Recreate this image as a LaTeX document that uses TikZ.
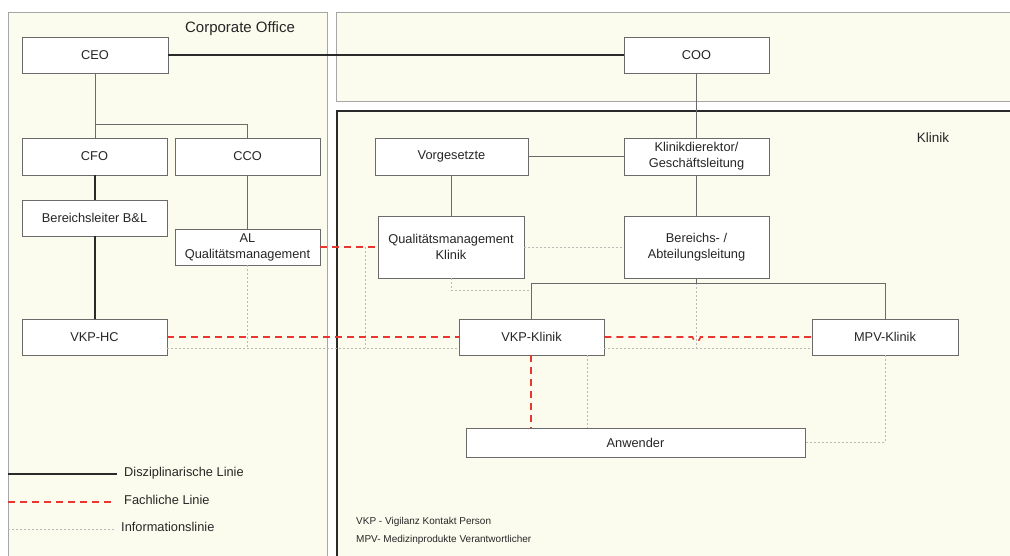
\documentclass[tikz,border=0pt]{standalone}
\usepackage{fontspec}
\setmainfont{Liberation Sans}
\definecolor{cream}{HTML}{FCFCEE}
\definecolor{boxline}{HTML}{6A6A6A}
\definecolor{darkline}{HTML}{2A2A2A}
\definecolor{fachred}{HTML}{E8342E}
\definecolor{infogray}{HTML}{B8B8B8}
\tikzset{
  orgbox/.style={draw=boxline, fill=white, line width=0.8pt, inner sep=1pt, align=center,
    font=\fontsize{12.8}{16}\selectfont, text=black!85},
  panel/.style={draw=gray!70, line width=0.8pt, fill=cream},
  treeline/.style={color=boxline, line width=0.7pt},
  discline/.style={color=darkline, line width=1.4pt},
  fachline/.style={draw=fachred, draw opacity=0.99, line width=1.6pt, dash pattern=on 7pt off 5pt},
  infoline/.style={color=infogray, line width=0.9pt, dash pattern=on 2pt off 2pt},
  legtext/.style={anchor=west, inner sep=0pt, font=\fontsize{12.8}{14}\selectfont, text=black!85},
  abbr/.style={anchor=west, inner sep=0pt, font=\fontsize{10}{12}\selectfont, text=black!85},
}
\begin{document}
\begin{tikzpicture}[x=1pt,y=-1pt]
\useasboundingbox (0,0) rectangle (1010,555);
\clip (0,0) rectangle (1010,555);
\fill[white] (0,0) rectangle (1010,555);
% panels
\path[panel] (8,12) rectangle (327,570);
\path[panel] (336.5,12) rectangle (1020,101.5);
\fill[cream] (337,111) rectangle (1020,570);
\draw[darkline, line width=1.8pt] (337,570) -- (337,111) -- (1020,111);

% named helper coordinates
\coordinate (ceoj) at (95,124);
\coordinate (ccoj) at (247.5,124);
\coordinate (berj) at (696.5,283);
\coordinate (vkpj) at (531.5,283);
\coordinate (mpvj) at (885,283);
\coordinate (infoL) at (247.5,348);
\coordinate (qmv) at (365,247);
\coordinate (qmvb) at (365,348);
\coordinate (qmb) at (451,290);
\coordinate (qmbr) at (531.5,290);
\coordinate (berd) at (696.5,348);
\coordinate (mpvc) at (885,442.5);
\coordinate (hopL) at (692.5,337);

% boxes
\node[orgbox, minimum width=146pt, minimum height=36pt] (ceo) at (95,55) {CEO};
\node[orgbox, minimum width=145pt, minimum height=36pt] (coo) at (696.5,55) {COO};
\node[orgbox, minimum width=145pt, minimum height=37pt] (cfo) at (94.5,156.5) {CFO};
\node[orgbox, minimum width=145pt, minimum height=37pt] (cco) at (247.5,156.5) {CCO};
\node[orgbox, minimum width=145pt, minimum height=36pt] (bl) at (94.5,218) {Bereichsleiter B\&L};
\node[orgbox, minimum width=145pt, minimum height=36pt] (al) at (247.5,247) {AL\\Qualitätsmanagement};
\node[orgbox, minimum width=145pt, minimum height=36pt] (vkphc) at (94.5,337) {VKP-HC};
\node[orgbox, minimum width=153pt, minimum height=37pt] (vor) at (451.5,156.5) {Vorgesetzte};
\node[orgbox, minimum width=145pt, minimum height=37pt] (kd) at (696.5,156.5) {Klinikdierektor/\\Geschäftsleitung};
\node[orgbox, minimum width=146pt, minimum height=62pt] (qmk) at (451,247) {Qualitätsmanagement\\Klinik};
\node[orgbox, minimum width=145pt, minimum height=62pt] (ber) at (696.5,247) {Bereichs- /\\Abteilungsleitung};
\node[orgbox, minimum width=145pt, minimum height=36pt] (vkpk) at (531.5,337) {VKP-Klinik};
\node[orgbox, minimum width=146pt, minimum height=36pt] (mpv) at (885,337) {MPV-Klinik};
\node[orgbox, minimum width=339pt, minimum height=29pt] (anw) at (635.5,442.5) {Anwender};

% information lines (dotted)
\draw[infoline] (vkphc.east |- 0,348) -- (vkpk.west |- 0,348);
\draw[infoline] (vkpk.east |- 0,348) -- (mpv.west |- 0,348);
\draw[infoline] (al.south) -- (infoL);
\draw[infoline] (qmv) -- (qmvb);
\draw[infoline] (qmk.east) -- (ber.west);
\draw[infoline] (qmk.south) -- (qmb) -- (qmbr);
\draw[infoline] (berj) -- (berd);
\draw[infoline] (vkpk.south -| 587,0) -- (anw.north -| 587,0);
\draw[infoline] (mpv.south) -- (mpvc) -- (anw.east);

% fachliche lines (red dashed)
\draw[fachline] (vkphc.east) -- (vkpk.west);
\draw[fachline] (al.east) -- (qmk.west);
\draw[fachline] (vkpk.east) -- (hopL) arc[start angle=180, end angle=0, radius=4] -- (mpv.west);
\draw[fachline] ([xshift=-0.5pt]vkpk.south) -- ([xshift=-0.5pt]anw.north -| vkpk.south);

% tree lines
\draw[discline, line width=1.8pt] (ceo.east) -- (coo.west);
\draw[treeline] (ceo.south) -- (ceoj) -- (ccoj) -- (cco.north);
\draw[treeline] (ceoj) -- (cfo.north -| ceoj);
\draw[discline] (cfo.south -| ceoj) -- (bl.north -| ceoj);
\draw[discline] (bl.south -| ceoj) -- (vkphc.north -| ceoj);
\draw[treeline] (cco.south) -- (al.north);
\draw[treeline] (coo.south) -- (kd.north);
\draw[treeline] (vor.east) -- (kd.west);
\draw[treeline] (vor.south) -- (qmk.north -| vor.south);
\draw[treeline] (kd.south) -- (ber.north);
\draw[treeline] (ber.south) -- (berj);
\draw[treeline] (vkpk.north) -- (vkpj) -- (mpvj) -- (mpv.north);

\node[inner sep=0pt, font=\fontsize{15}{17}\selectfont, text=black!85] (corp) at (240,29) {Corporate Office};
\node[inner sep=0pt, font=\fontsize{13.5}{15}\selectfont, text=black!85] (klinik) at (933,138) {Klinik};

% legend
\coordinate (l1a) at (8,474); \coordinate (l1b) at (117,474);
\coordinate (l2a) at (8,502); \coordinate (l2b) at (115,502);
\coordinate (l3a) at (8,529); \coordinate (l3b) at (115,529);
\draw[discline, line width=1.5pt] (l1a) -- (l1b);
\draw[fachline] (l2a) -- (l2b);
\draw[infoline] (l3a) -- (l3b);
\node[legtext] (t1) at (124,473) {Disziplinarische Linie};
\node[legtext] (t2) at (124,500) {Fachliche Linie};
\node[legtext] (t3) at (121,527) {Informationslinie};
\node[abbr] (a1) at (356,522) {VKP - Vigilanz Kontakt Person};
\node[abbr] (a2) at (356,540) {MPV- Medizinprodukte Verantwortlicher};
\end{tikzpicture}
\end{document}
